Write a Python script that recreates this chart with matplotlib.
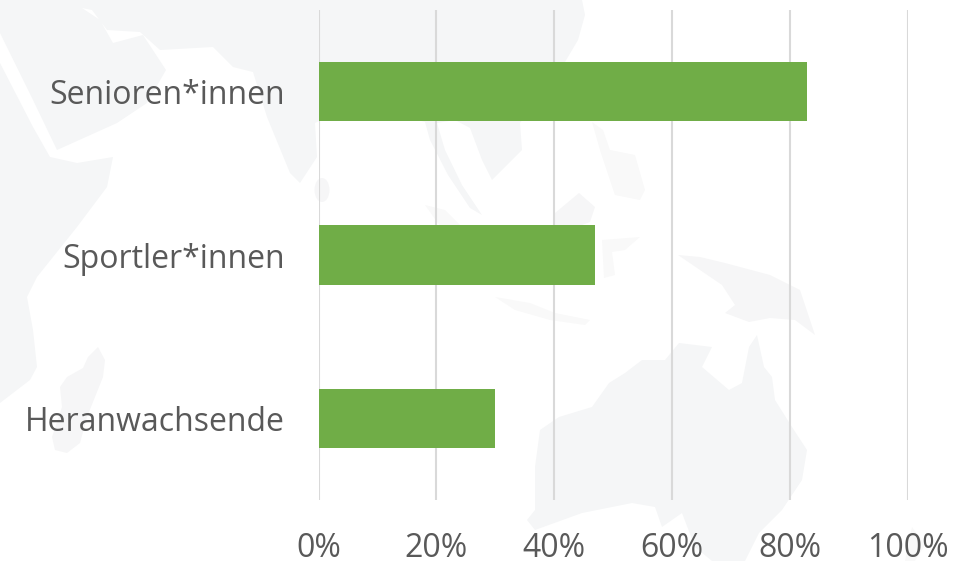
import matplotlib
matplotlib.use("Agg")
import matplotlib.pyplot as plt
from matplotlib.patches import Ellipse, Polygon

categories = ["Heranwachsende", "Sportler*innen", "Senioren*innen"]
values = [30, 47, 83]
xticks = [0, 20, 40, 60, 80, 100]

# faint world map behind the chart, rough outlines in picture pixels
asia = [(0, 0), (582, 0), (585, 15), (578, 40), (565, 62), (540, 95), (520, 123), (522, 150),
        (505, 167), (492, 180), (482, 160), (470, 128), (455, 120), (437, 123), (445, 150),
        (462, 185), (482, 215), (470, 208), (448, 175), (430, 140), (425, 122), (380, 110),
        (325, 118), (315, 123), (317, 157), (300, 183), (290, 173), (267, 117), (253, 72),
        (233, 67), (213, 47), (160, 50), (140, 32), (107, 30), (92, 10), (82, 8), (100, 20),
        (113, 43), (143, 35), (166, 70), (147, 103), (117, 123), (57, 150), (33, 100), (0, 33)]
africa = [(0, 63), (33, 127), (50, 157), (77, 163), (113, 157), (107, 187), (77, 227), (37, 277),
          (27, 297), (33, 330), (37, 367), (30, 380), (0, 403)]
madagascar = [(98, 347), (105, 360), (103, 377), (87, 417), (80, 443), (67, 453), (55, 450),
              (52, 437), (62, 407), (60, 387), (67, 377), (83, 368), (88, 357)]
sumatra = [(425, 205), (445, 210), (470, 235), (490, 265), (478, 268), (450, 240)]
java = [(495, 297), (530, 303), (555, 313), (590, 320), (585, 325), (550, 320), (515, 310)]
borneo = [(555, 213), (579, 193), (595, 207), (590, 222), (582, 225), (565, 250), (553, 240)]
sulawesi = [(602, 240), (640, 237), (625, 250), (612, 252), (615, 275), (604, 278)]
philippines = [(592, 122), (603, 130), (610, 150), (635, 155), (645, 190), (640, 200), (615, 195),
               (600, 150)]
new_guinea = [(678, 255), (700, 257), (725, 263), (770, 275), (800, 290), (815, 335), (795, 320),
              (770, 318), (749, 322), (725, 313), (735, 305), (722, 285), (700, 270)]
australia = [(527, 520), (535, 510), (535, 467), (540, 430), (559, 417), (592, 407), (609, 383),
             (625, 373), (642, 360), (665, 360), (679, 343), (712, 347), (702, 367), (729, 390),
             (742, 383), (749, 347), (757, 335), (764, 367), (772, 377), (775, 400), (792, 427),
             (807, 450), (802, 480), (782, 510), (759, 533), (745, 561), (712, 561), (695, 547),
             (682, 513), (662, 527), (655, 507), (632, 503), (582, 513), (535, 530)]
new_zealand = [(912, 527), (925, 545), (915, 561), (905, 561)]

plt.rcParams["font.family"] = ["Open Sans", "DejaVu Sans"]

W, H = 965, 561
fig = plt.figure(figsize=(W / 100, H / 100), dpi=100)

bg = fig.add_axes([0, 0, 1, 1], zorder=0)
bg.set_xlim(0, W)
bg.set_ylim(H, 0)
bg.axis("off")
for shape in [asia, africa, australia]:
    bg.add_patch(Polygon(shape, closed=True, fc="#F5F6F7", ec="none"))
for shape in [madagascar, new_guinea, borneo]:
    bg.add_patch(Polygon(shape, closed=True, fc="#F6F6F7", ec="none"))
for shape in [sumatra, philippines, java, sulawesi, new_zealand]:
    bg.add_patch(Polygon(shape, closed=True, fc="#F9F9F9", ec="none"))
bg.add_patch(Ellipse((322, 190), 15, 24, fc="#F6F6F7", ec="none"))

ax = fig.add_axes([318.5 / W, 1 - 500 / H, (907.5 - 318.5) / W, (500 - 10) / H], zorder=1)
ax.set_xlim(0, 100)
ax.set_ylim(-0.5, 2.5)

ax.barh(range(3), values, height=0.365, color="#70AD47", zorder=3)
ax.set_yticks(range(3), categories)
ax.set_xticks(xticks, [f"{v}%" for v in xticks])
ax.grid(axis="x", color="#D9D9D9", lw=1.5, zorder=0)
ax.tick_params(length=0, labelsize=23, labelcolor="#595959")
ax.tick_params(axis="x", pad=23)
ax.tick_params(axis="y", pad=24)
for s in ax.spines.values():
    s.set_visible(False)
ax.patch.set_alpha(0)

fig.savefig("out.png", dpi=100)
